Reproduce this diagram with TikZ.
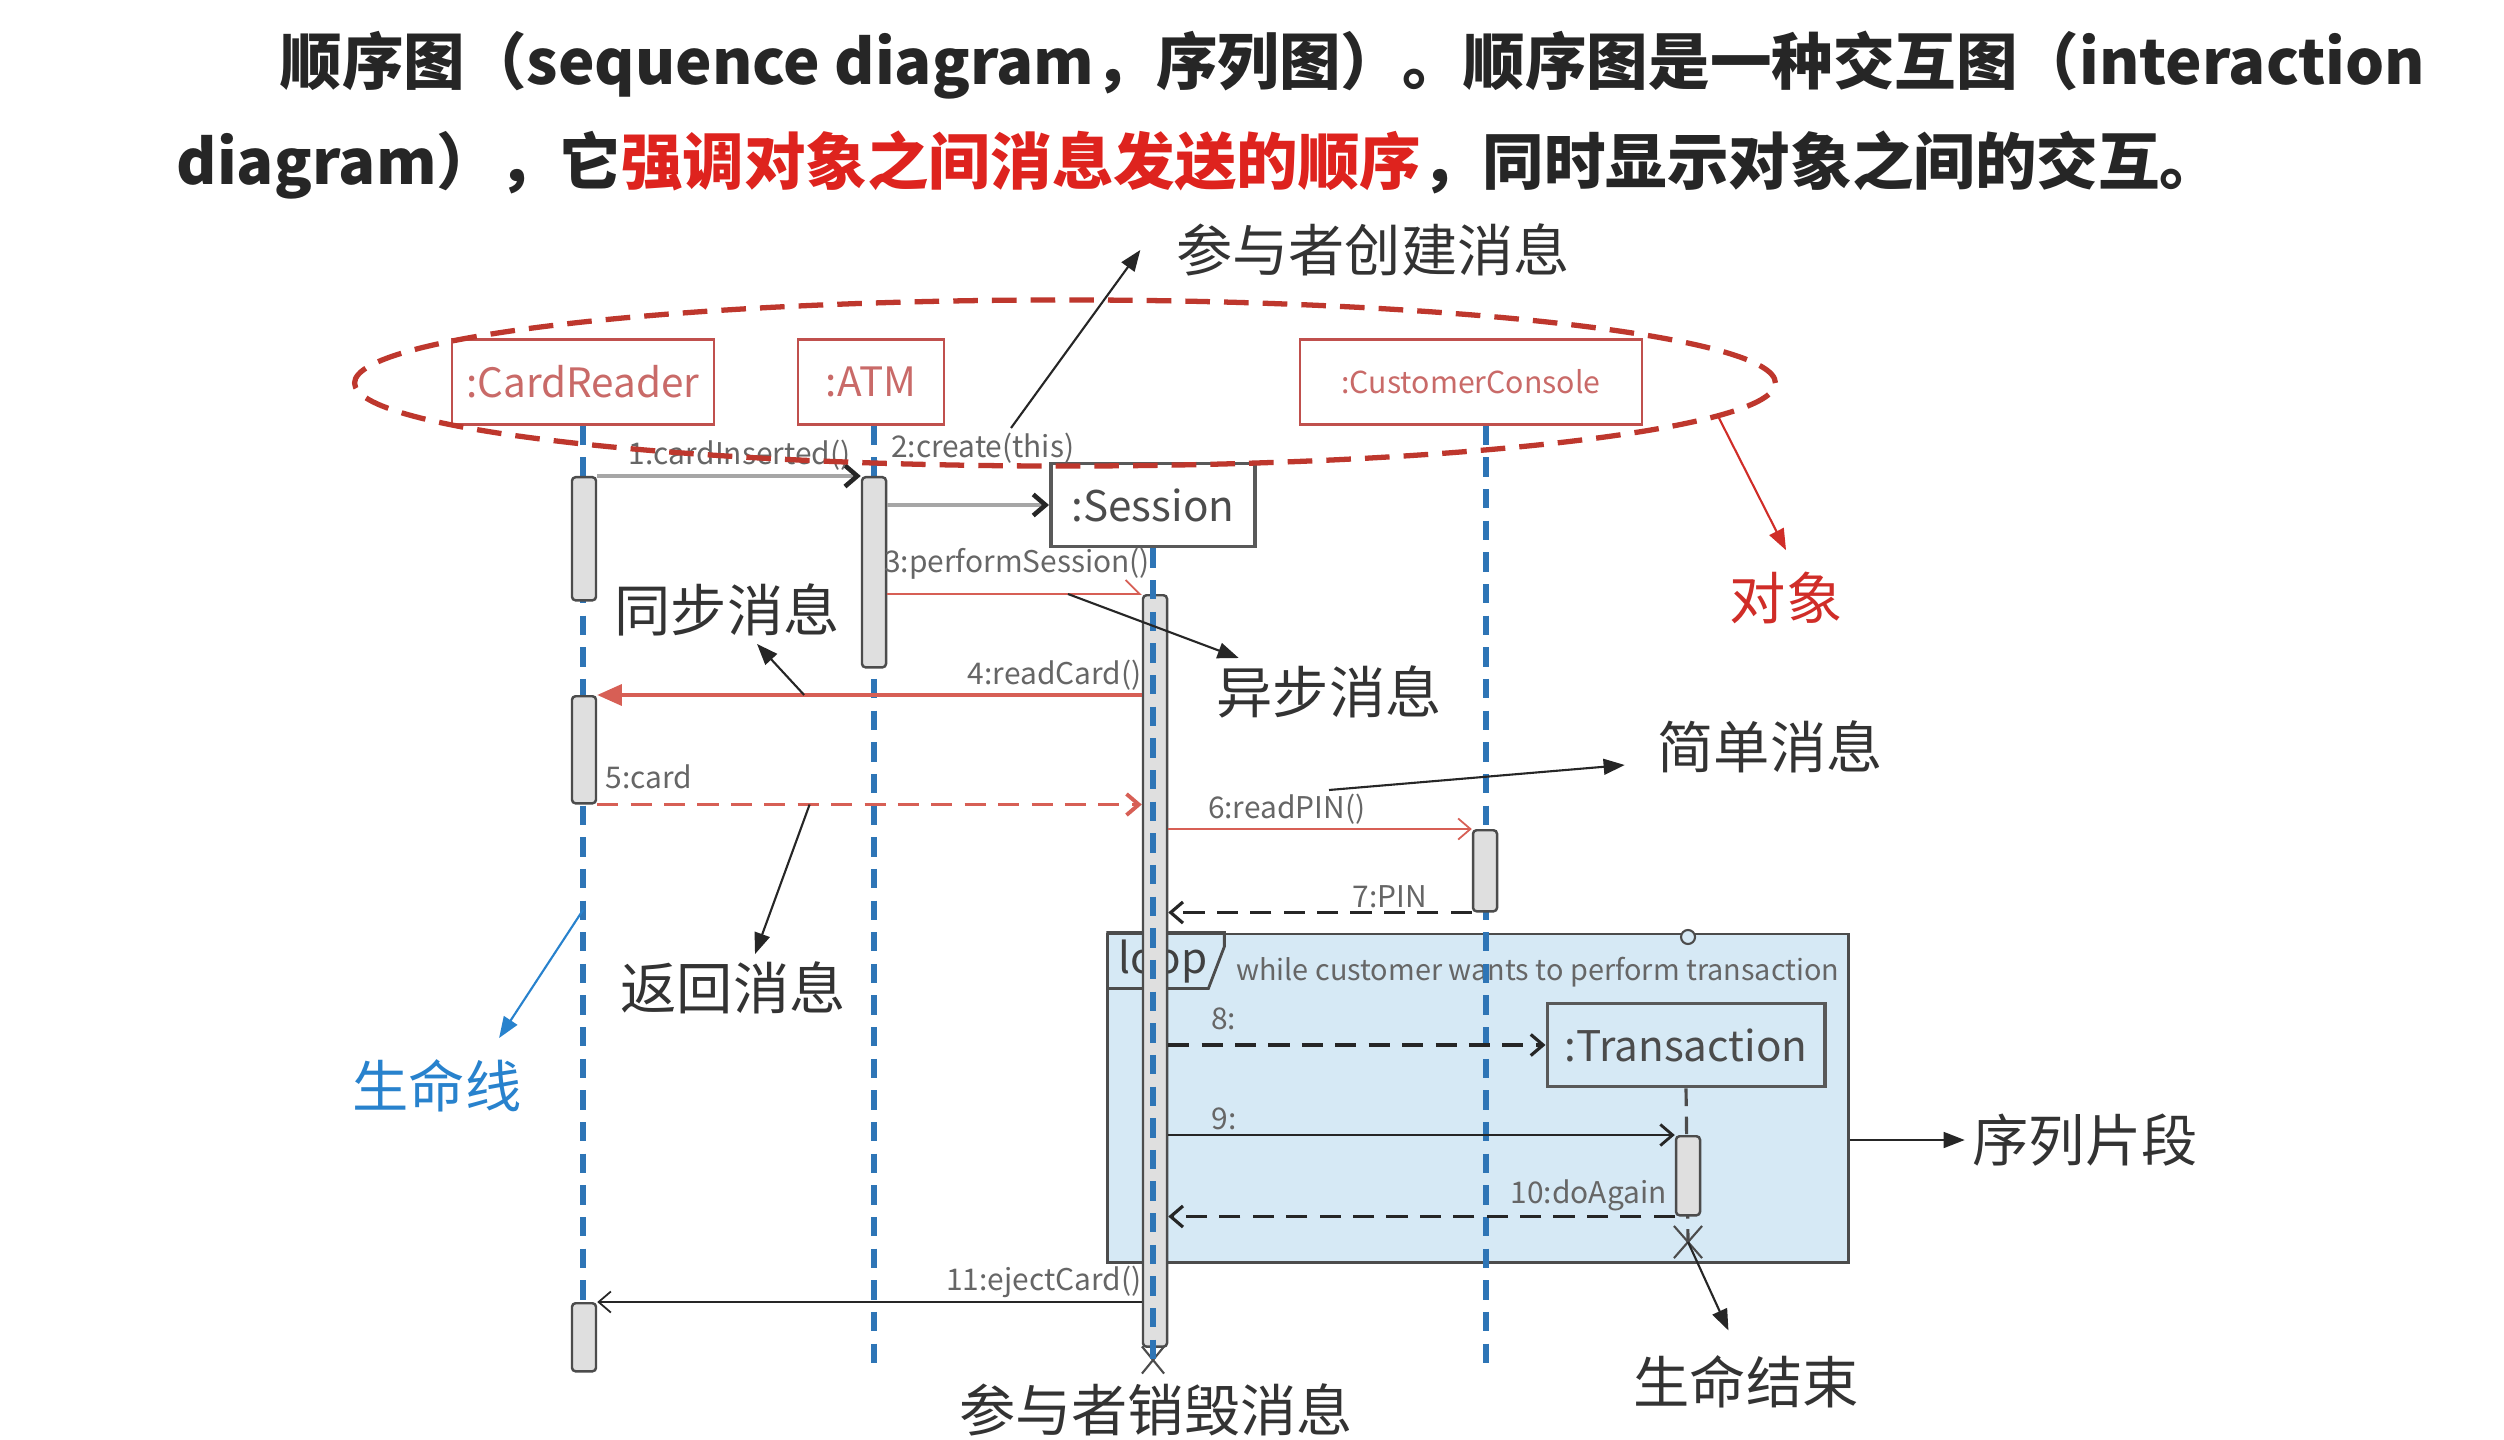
\documentclass[tikz,border=0pt]{standalone}
\usepackage{fontspec}
\setmainfont{Noto Sans CJK SC}
\usetikzlibrary{arrows.meta,positioning,shapes.geometric,shapes.misc}
\definecolor{objred}{RGB}{192,80,77}
\definecolor{ovalred}{RGB}{190,55,45}
\definecolor{msgred}{RGB}{215,95,85}
\definecolor{lifeblue}{RGB}{46,117,182}
\definecolor{loopblue}{RGB}{214,233,245}
\definecolor{ttlred}{RGB}{222,35,30}
\definecolor{noteblue}{RGB}{40,130,205}
\definecolor{notered}{RGB}{208,45,40}
\tikzset{
  objbox/.style={draw=objred,line width=0.7pt,fill=white,minimum height=0.85cm,inner sep=2pt,text=objred!85,font=\fontsize{11.5}{12}\selectfont},
  rolebox/.style={draw=black!65,line width=1.1pt,fill=white,minimum height=0.83cm,inner sep=2pt,text=black!70,font=\fontsize{12}{12}\selectfont},
  life/.style={draw=lifeblue,line width=1.6pt,dash pattern=on 5.5pt off 3.5pt},
  trlife/.style={draw=black!70,line width=0.9pt,dash pattern=on 5pt off 3pt},
  actbar/.style={draw=black!70,fill=gray!25,line width=0.7pt,minimum width=0.24cm,inner sep=0pt,anchor=north,rounded corners=1pt},
  msg/.style={-{Straight Barb[length=3.5pt,width=6pt]},line width=0.5pt,draw=black!85},
  gmsg/.style={-{Straight Barb[length=3.5pt,width=6pt,color=black!85]},draw=gray!70,line width=1.3pt},
  rmsg/.style={msg,draw=msgred},
  ret/.style={line width=0.9pt,dash pattern=on 6pt off 3.5pt},
  mlbl/.style={font=\fontsize{8.5}{9}\selectfont,text=black!60,inner sep=1pt},
  note/.style={font=\fontsize{16}{16}\selectfont,text=black!80,inner sep=2pt},
  ptr/.style={-{Triangle[length=6pt,width=4.5pt]},line width=0.6pt,draw=black!85},
  endx/.style={draw=black!70,cross out,line width=0.6pt,inner sep=0pt},
  ttl/.style={font=\fontsize{17.5}{18}\selectfont\bfseries,text=black!85,inner sep=0pt},
}
\begin{document}
\begin{tikzpicture}[x=0.01cm,y=-0.01cm]
 \fill[white] (0,0) rectangle (2504,1440);
 \useasboundingbox (0,0) rectangle (2504,1440);
 % title
 \node[ttl,anchor=west] (t1) at (280,65) {顺序图（sequence diagram，序列图）。顺序图是一种交互图（interaction};
 \node[ttl,anchor=west] (t2) at (176,165) {diagram），它\textcolor{ttlred}{强调对象之间消息发送的顺序}，同时显示对象之间的交互。};
 % loop fragment
 \node[draw=black!70,fill=loopblue,line width=0.8pt,minimum width=7.4cm,minimum height=3.28cm,inner sep=0pt] (loop) at (1478,1098) {};
 \draw[black!70,line width=0.8pt] (loop.north west) -- ++(118,0) -- ++(0,14) -- ++(-16,42) -- ++(-102,0);
 \node[font=\fontsize{12}{12}\selectfont,text=black!75,inner sep=0pt] (lp) at (1163,962) {loop};
 \node[mlbl,anchor=west,font=\fontsize{8.2}{9}\selectfont] (guard) at (1232,972) {while customer wants to perform transaction};
 \draw[black!70,line width=0.6pt,fill=loopblue] (1688,937) circle[radius=7];
 % objects
 \node[objbox,minimum width=2.62cm] (cr) at (583,382) {:CardReader};
 \node[objbox,minimum width=1.46cm] (atm) at (871,382) {:ATM};
 \node[objbox,minimum width=3.42cm,font=\fontsize{8.6}{10}\selectfont] (cc) at (1471,382) {:CustomerConsole};
 \node[rolebox,minimum width=2.04cm] (ses) at (1153,505) {:Session};
 \node[rolebox,minimum width=2.77cm,fill=loopblue] (tr) at (1686,1045) {:Transaction};
 % lifelines
 \coordinate (cr-end) at (583,1370);
 \coordinate (atm-end) at (874,1370);
 \coordinate (cc-end) at (1486,1372);
 \coordinate (lifePt) at (583,910);
 \foreach \o in {cr,atm,cc} \draw[life] (\o.south -| \o-end) -- (\o-end);
 \node[endx,minimum width=0.26cm,minimum height=0.3cm] (trX) at (1688,1242) {};
 \node[endx,minimum width=0.2cm,minimum height=0.25cm] (sesX) at (1153,1360) {};
 \draw[trlife] (tr.south) -- (trX.center);
 % activations
 \node[actbar,minimum height=1.23cm] (crA1) at (584,476) {};
 \node[actbar,minimum height=1.07cm] (crA2) at (584,695) {};
 \node[actbar,minimum height=0.68cm] (crA3) at (584,1302) {};
 \node[actbar,minimum height=1.90cm] (atmA) at (874,476) {};
 \node[actbar,minimum height=7.51cm] (sesA) at (1155,594) {};
 \node[actbar,minimum height=0.81cm] (ccA) at (1485,829) {};
 \node[actbar,minimum height=0.79cm] (trA) at (1688,1135) {};
 \draw[life] (ses.south) -- (sesX.center);
 % messages
 \draw[gmsg] (crA1.north east) -- node[mlbl,above,pos=0.54] (l1) {1:cardInserted()} (atmA.north west);
 \draw[gmsg] (atmA.east |- ses.west) -- node[mlbl,above=0.36cm,pos=0.59] (l2) {2:create(this)} (ses.west);
 \draw[rmsg,-{Straight Barb[left,length=4pt,width=8pt]}] (atmA.east |- sesA.north) -- node[mlbl,above=0.1cm,pos=0.51] (l3) {3:performSession()} coordinate[pos=0.71] (p3) (sesA.north west);
 \draw[rmsg,line width=0.9pt,-{Triangle[length=7pt,width=6pt]}] (sesA.west |- crA2.north) -- node[mlbl,above,pos=0.16] (l4) {4:readCard()} coordinate[pos=0.62] (p4) (crA2.north east);
 \draw[rmsg,ret,line width=1.1pt] (crA2.south east) -- node[mlbl,above=0.1cm,pos=0.095] (l5) {5:card} coordinate[pos=0.39] (p5) (sesA.west |- crA2.south);
 \draw[rmsg] (sesA.east |- ccA.north) -- node[mlbl,above,pos=0.39] (l6) {6:readPIN()} (ccA.north west);
 \draw[msg,ret] (ccA.south west) -- node[mlbl,above,pos=0.27] (l7) {7:PIN} (sesA.east |- ccA.south);
 \draw[msg,ret] (sesA.east |- tr.west) -- node[mlbl,above=0.1cm,pos=0.147] (l8) {8:} (tr.west);
 \draw[msg,line width=0.8pt] (sesA.east |- trA.north) -- node[mlbl,above,pos=0.11] (l9) {9:} (trA.north west);
 \draw[msg,ret] (trA.south west) -- node[mlbl,above,pos=0.17] (l10) {10:doAgain} (sesA.east |- trA.south);
 \draw[msg] (sesA.west |- crA3.north) -- node[mlbl,above,pos=0.18] (l11) {11:ejectCard()} (crA3.north east);
 % objects oval
 \node[draw=ovalred,ellipse,line width=1.5pt,dash pattern=on 7pt off 4pt,minimum width=14.2cm,minimum height=1.66cm,inner sep=0pt] (objs) at (1065,383) {};
 % notes
 \node[note] (nCreate) at (1373,250) {参与者创建消息};
 \coordinate (cPt) at (1011,428);
 \draw[ptr] (cPt) -- ([xshift=-0.28cm]nCreate.west);
 \node[note,text=notered] (nObj) at (1786,598) {对象};
 \draw[ptr,draw=notered] (objs.-3) -- ([yshift=4pt]nObj.north);
 \node[note] (nSync) at (727,610) {同步消息};
 \draw[ptr] (p4) -- ([xshift=0.3cm]nSync.south);
 \node[note] (nAsync) at (1329,692) {异步消息};
 \draw[ptr] (p3) -- ([xshift=0.3cm]nAsync.north west);
 \node[note] (nSimple) at (1770,747) {简单消息};
 \coordinate (sPt) at (1329,790);
 \draw[ptr] (sPt) -- ([xshift=-0.25cm,yshift=-0.18cm]nSimple.west);
 \node[note] (nRet) at (733,988) {返回消息};
 \draw[ptr] (p5) -- ([xshift=0.22cm]nRet.north);
 \node[note,text=noteblue] (nLife) at (437,1086) {生命线};
 \draw[ptr,draw=noteblue] (lifePt) -- ([xshift=-0.3cm,yshift=0.14cm]nLife.north east);
 \node[note] (nSeq) at (2085,1140) {序列片段};
 \draw[ptr] (loop.east |- nSeq.west) -- (nSeq.west);
 \node[note] (nEnd) at (1746,1382) {生命结束};
 \draw[ptr] (trX.center) -- ([xshift=-5pt,yshift=5pt]nEnd.north);
 \node[note] (nDel) at (1156,1410) {参与者销毁消息};
\end{tikzpicture}
\end{document}
